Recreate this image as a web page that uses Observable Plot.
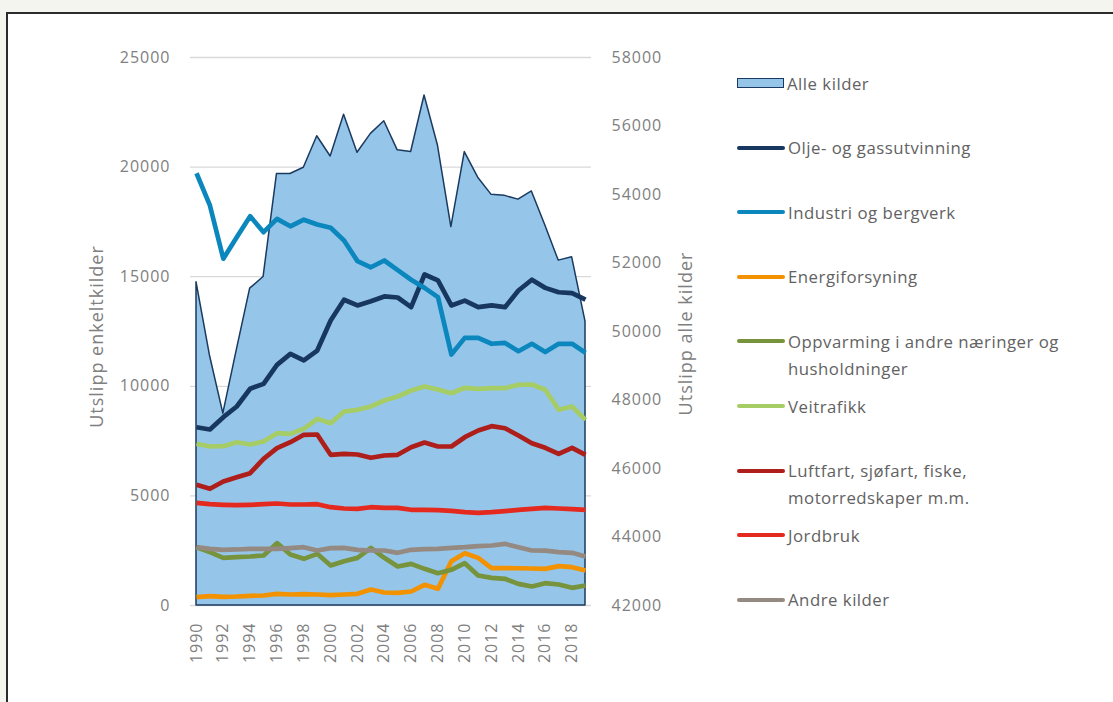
<!DOCTYPE html>
<html>
<head>
<meta charset="utf-8">
<script src="https://cdn.jsdelivr.net/npm/d3@7"></script>
<script src="https://cdn.jsdelivr.net/npm/@observablehq/plot@0.6"></script>
<style>
  html, body { margin: 0; padding: 0; width: 1113px; height: 702px; overflow: hidden; background: #f3f5ee; }
  #panel { position: absolute; left: 6px; top: 12px; width: 1200px; height: 800px; background: #fff;
           border-top: 2px solid #2b2b2b; border-left: 2px solid #2b2b2b; }
  #chart { position: absolute; left: 0; top: 0; }
  #chart svg text { letter-spacing: 1px; }
  #legend { position: absolute; left: 0; top: 0; font-family: "Open Sans", sans-serif; font-size: 16.8px;
            letter-spacing: 0.5px; color: #626262; }
  .item { position: absolute; left: 737px; width: 370px; display: flex; align-items: flex-start; }
  .swatch { width: 48px; flex: none; margin-right: 3px; }
  .label { line-height: 27px; white-space: pre; }
</style>
</head>
<body>
<div id="panel"></div>
<div id="chart"></div>
<div id="legend"></div>
<script>
// Years on the x axis
const years = [1990, 1991, 1992, 1993, 1994, 1995, 1996, 1997, 1998, 1999,
               2000, 2001, 2002, 2003, 2004, 2005, 2006, 2007, 2008, 2009,
               2010, 2011, 2012, 2013, 2014, 2015, 2016, 2017, 2018, 2019];

// Total emissions (right axis), 1000 tonnes CO2-eq
const alleKilder = [51440, 49300, 47600, 49450, 51250, 51590, 54600, 54600, 54780, 55700,
                    55110, 56330, 55220, 55770, 56140, 55290, 55240, 56890, 55430, 53050,
                    55240, 54490, 53990, 53960, 53850, 54090, 53100, 52070, 52170, 50290];

// Emissions per source (left axis)
const oljeGass = [8130, 8030, 8590, 9080, 9890, 10110, 10980, 11480, 11180, 11630,
                  13000, 13950, 13690, 13880, 14100, 14050, 13610, 15100, 14830, 13690,
                  13910, 13610, 13690, 13610, 14370, 14860, 14490, 14290, 14250, 13950];
const industri = [19720, 18250, 15820, 16800, 17760, 17030, 17640, 17300, 17600, 17380,
                  17230, 16650, 15710, 15430, 15740, 15300, 14860, 14490, 14070, 11450,
                  12210, 12210, 11940, 11980, 11600, 11940, 11560, 11940, 11940, 11530];
const energi = [380, 426, 395, 410, 441, 456, 532, 502, 517, 502,
                471, 502, 532, 730, 593, 578, 639, 943, 760, 2022,
                2387, 2174, 1703, 1703, 1700, 1688, 1673, 1794, 1749, 1597];
const oppvarming = [2660, 2433, 2174, 2204, 2235, 2280, 2844, 2327, 2129, 2357,
                    1825, 2022, 2174, 2630, 2174, 1780, 1901, 1673, 1475, 1627,
                    1931, 1369, 1262, 1217, 988, 867, 1019, 958, 806, 912];
const veitrafikk = [7377, 7254, 7268, 7450, 7345, 7482, 7860, 7830, 8061, 8517,
                    8317, 8850, 8928, 9078, 9352, 9535, 9808, 9991, 9854, 9685,
                    9932, 9886, 9914, 9914, 10068, 10083, 9840, 8928, 9078, 8471];
const luftfart = [5506, 5324, 5657, 5853, 6036, 6692, 7176, 7450, 7787, 7801,
                  6875, 6920, 6889, 6738, 6843, 6875, 7222, 7436, 7254, 7254,
                  7678, 7984, 8180, 8088, 7755, 7404, 7194, 6920, 7194, 6875];
const jordbruk = [4685, 4621, 4594, 4580, 4594, 4621, 4653, 4607, 4607, 4621,
                  4484, 4425, 4410, 4484, 4455, 4457, 4366, 4366, 4350, 4320,
                  4256, 4228, 4256, 4305, 4366, 4411, 4457, 4425, 4395, 4366];
const andre = [2660, 2587, 2541, 2556, 2587, 2587, 2587, 2617, 2660, 2509,
               2617, 2632, 2541, 2509, 2509, 2403, 2541, 2572, 2587, 2632,
               2660, 2707, 2738, 2814, 2660, 2509, 2500, 2433, 2403, 2235];

const seriesNames = ["Olje- og gassutvinning", "Industri og bergverk", "Energiforsyning",
                     "Oppvarming i andre næringer og\nhusholdninger", "Veitrafikk",
                     "Luftfart, sjøfart, fiske,\nmotorredskaper m.m.", "Jordbruk", "Andre kilder"];
const seriesValues = [oljeGass, industri, energi, oppvarming, veitrafikk, luftfart, jordbruk, andre];
const seriesColors = ["#17375e", "#0b87bd", "#f39200", "#77933c", "#a6cc65", "#ae1e1b", "#e4291f", "#948a81"];
const areaName = "Alle kilder";
const areaFill = "#95c6ea";
const areaStroke = "#1b3a5f";

// Tick values
const xTicks = [1990, 1992, 1994, 1996, 1998, 2000, 2002, 2004, 2006, 2008, 2010, 2012, 2014, 2016, 2018];
const leftTicks = [0, 5000, 10000, 15000, 20000, 25000];
const rightTicks = [42000, 44000, 46000, 48000, 50000, 52000, 54000, 56000, 58000];

// The right axis [42000, 58000] is drawn on the shared left scale [0, 25000]
const leftMax = 25000, rightMin = 42000, rightMax = 58000;
const toLeft = v => (v - rightMin) * leftMax / (rightMax - rightMin);
const toRight = v => Math.round(v * (rightMax - rightMin) / leftMax + rightMin);

const areaRows = years.map((year, i) => ({year, value: toLeft(alleKilder[i])}));
const lineMarks = seriesValues.map((vals, s) =>
  Plot.lineY(years.map((year, i) => ({year, value: vals[i]})), {
    x: "year", y: "value", stroke: seriesColors[s], strokeWidth: 4.7,
    strokeLinejoin: "round", strokeLinecap: "butt"
  })
);

const chart = Plot.plot({
  width: 720,
  height: 702,
  marginLeft: 196,
  marginRight: 135,
  marginTop: 57,
  marginBottom: 97,
  style: {fontFamily: "'Open Sans', sans-serif", fontSize: "16px", color: "#808080", background: "transparent"},
  x: {type: "linear", domain: [1990, 2019]},
  y: {domain: [0, leftMax]},
  marks: [
    Plot.ruleY(leftTicks, {stroke: "#d9d9d9", strokeWidth: 1.3, insetLeft: -6, insetRight: -6}),
    Plot.areaY(areaRows, {x: "year", y: "value", fill: areaFill, stroke: areaStroke, strokeWidth: 1.5}),
    ...lineMarks,
    Plot.axisY(leftTicks, {anchor: "left", tickSize: 0, tickPadding: 26, tickFormat: d => String(d), label: null}),
    Plot.axisY(rightTicks.map(toLeft), {anchor: "right", tickSize: 0, tickPadding: 26, tickFormat: d => String(toRight(d)), label: null}),
    Plot.axisX(xTicks, {anchor: "bottom", tickSize: 0, tickPadding: 17, tickRotate: -90, tickFormat: d => String(d), label: null}),
    Plot.text(["Utslipp enkeltkilder"], {frameAnchor: "left", textAnchor: "middle", dx: -99, dy: 5, rotate: -90, fontSize: 18, fill: "#808080"}),
    Plot.text(["Utslipp alle kilder"], {frameAnchor: "right", textAnchor: "middle", dx: 101, dy: 2, rotate: -90, fontSize: 18, fill: "#808080"})
  ]
});
document.getElementById("chart").appendChild(chart);

// Legend
const legend = d3.select("#legend");
const entries = [{name: areaName, kind: "area"}].concat(
  seriesNames.map((name, i) => ({name, kind: "line", color: seriesColors[i]})));
entries.forEach((e, i) => {
  const item = legend.append("div").attr("class", "item").style("top", (83 + i * 64.6 - 13.5) + "px");
  const sw = item.append("div").attr("class", "swatch");
  if (e.kind === "area") {
    sw.style("height", "8px").style("margin-top", "8px").style("background", areaFill)
      .style("border", "1.5px solid " + areaStroke).style("width", "45px");
  } else {
    sw.style("height", "4px").style("margin-top", "11.5px").style("background", e.color).style("border-radius", "2px");
  }
  item.append("div").attr("class", "label").text(e.name);
});
</script>
</body>
</html>
